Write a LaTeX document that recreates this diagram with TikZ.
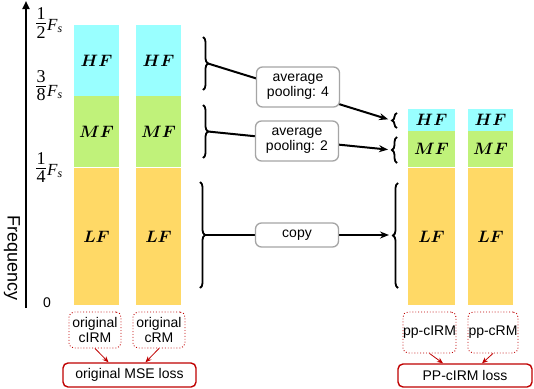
\documentclass[tikz,border=0pt]{standalone}
\usepackage[no-math]{fontspec}
\setmainfont{Liberation Sans}
\newfontfamily\fracfont{Liberation Serif}
\DeclareFontShape{OML}{cmm}{m}{it}{<->cmmi10}{}
\DeclareFontShape{OML}{cmm}{b}{it}{<->cmmib10}{}
\DeclareFontShape{OT1}{cmr}{m}{n}{<->cmr10}{}
\DeclareFontShape{OT1}{cmr}{bx}{n}{<->cmbx10}{}
\DeclareFontShape{OMS}{cmsy}{m}{n}{<->cmsy10}{}
\DeclareFontShape{OMS}{cmsy}{b}{n}{<->cmbsy10}{}
\usetikzlibrary{arrows.meta,decorations.pathreplacing}
\definecolor{hfc}{RGB}{153,255,255}
\definecolor{mfc}{RGB}{192,242,122}
\definecolor{lfc}{RGB}{255,217,102}
\definecolor{dred}{RGB}{192,0,0}
\definecolor{gbord}{RGB}{165,165,165}
\tikzset{
  seg/.style={inner sep=0pt, outer sep=0pt, draw=none, font=\fontsize{16.5}{18}\selectfont\boldmath},
  hfseg/.style={seg, fill=hfc},
  mfseg/.style={seg, fill=mfc},
  lfseg/.style={seg, fill=lfc},
  bracestyle/.style={line width=1.8pt, decorate, decoration={brace, amplitude=5pt}},
  conn/.style={line width=2pt, -{Stealth[length=9pt,width=7pt]}, shorten >=4pt},
  gbox/.style={draw=gbord, line width=1.3pt, rounded corners=6pt, fill=white, align=center,
    inner sep=1pt, minimum width=83pt, font=\fontsize{14}{15}\selectfont},
  dbox/.style={draw=dred, dotted, line width=0.9pt, rounded corners=5pt, align=center, inner sep=0pt,
    font=\fontsize{14}{15}\selectfont},
  lbox/.style={draw=dred, line width=1.4pt, rounded corners=5pt, fill=white, inner sep=0pt,
    font=\fontsize{14}{15}\selectfont},
  rarrow/.style={draw=dred, line width=0.8pt, -{Stealth[length=6pt,width=5pt]}},
  fracdigit/.style={anchor=base, inner sep=0pt, font=\fracfont\fontsize{18}{18}\selectfont},
  fsub/.style={anchor=base west, inner sep=0pt, font=\fracfont\itshape\fontsize{17}{17}\selectfont},
  fracbar/.style={line width=0.8pt}
}
\begin{document}
\begin{tikzpicture}[x=1pt,y=-1pt]
\useasboundingbox[fill=white] (0,0) rectangle (534,388);
% axis
\draw[line width=2.6pt, -{Triangle[length=8pt,width=7pt]}] (26,308) -- (26,1);
\node[rotate=-90, font=\fontsize{18}{18}\selectfont] (freq) at (12,258) {Frequency};
% 1/2 Fs
\node[fracdigit] (n12) at (41,19.5) {1};
\node[fracdigit] (d12) at (41,38.5) {2};
\draw[fracbar] (36,23.5) -- (46,23.5);
\node[fsub] (fs12) at (47,30) {F\textsubscript{s}};
% 3/8 Fs
\node[fracdigit] (n38) at (41,82.5) {3};
\node[fracdigit] (d38) at (41,100) {8};
\draw[fracbar] (36,86) -- (46,86);
\node[fsub] (fs38) at (47,96) {F\textsubscript{s}};
% 1/4 Fs
\node[fracdigit] (n14) at (41,164.5) {1};
\node[fracdigit] (d14) at (41,182) {4};
\draw[fracbar] (36,168) -- (46,168);
\node[fsub] (fs14) at (47,175) {F\textsubscript{s}};
\node[font=\fontsize{14}{14}\selectfont, inner sep=0pt] (zero) at (47,303) {0};
% left columns
\node[hfseg, minimum width=45pt, minimum height=71pt] (hf1) at (96.5,60.5) {$HF$};
\node[mfseg, minimum width=45pt, minimum height=71pt] (mf1) at (96.5,131.5) {$MF$};
\node[lfseg, minimum width=45pt, minimum height=137pt] (lf1) at (96.5,236.5) {$LF$};
\node[hfseg, minimum width=45pt, minimum height=71pt] (hf2) at (158.5,60.5) {$HF$};
\node[mfseg, minimum width=45pt, minimum height=71pt] (mf2) at (158.5,131.5) {$MF$};
\node[lfseg, minimum width=45pt, minimum height=137pt] (lf2) at (158.5,236.5) {$LF$};
% right columns
\node[hfseg, minimum width=47pt, minimum height=22pt] (hf3) at (431.5,120) {$HF$};
\node[mfseg, minimum width=47pt, minimum height=36pt] (mf3) at (431.5,149) {$MF$};
\node[lfseg, minimum width=47pt, minimum height=137pt] (lf3) at (431.5,236.5) {$LF$};
\node[hfseg, minimum width=45pt, minimum height=22pt] (hf4) at (490.5,120) {$HF$};
\node[mfseg, minimum width=45pt, minimum height=36pt] (mf4) at (490.5,149) {$MF$};
\node[lfseg, minimum width=45pt, minimum height=137pt] (lf4) at (490.5,236.5) {$LF$};
% braces
\draw[bracestyle] (203,37) -- (203,90);
\coordinate (lhf) at (208,63.5);
\draw[bracestyle] (203,105) -- (203,158);
\coordinate (lmf) at (208,131.5);
\draw[bracestyle] (200,182) -- (200,288);
\coordinate (llf) at (205,235);
\draw[bracestyle] (397,128) -- (397,113);
\coordinate (rhf) at (392,120.5);
\draw[bracestyle] (397,163) -- (397,137);
\coordinate (rmf) at (392,150);
\draw[bracestyle] (398,288) -- (398,183);
\coordinate (rlf) at (393,235);
% connectors
\draw[conn] (lhf) -- (rhf);
\draw[conn] (lmf) -- (rmf);
\draw[conn] (llf) -- (rlf);
% operation boxes
\node[gbox, minimum height=40pt] (avg4) at (298,87) {average\\pooling: 4};
\node[gbox, minimum height=40pt] (avg2) at (297,141) {average\\pooling: 2};
\node[gbox, minimum height=24pt] (copy) at (297,235) {copy};
% bottom boxes
\node[dbox, minimum width=52pt, minimum height=36pt] (oc1) at (95,330) {original\\cIRM};
\node[dbox, minimum width=52pt, minimum height=36pt] (oc2) at (159,330) {original\\cRM};
\node[dbox, minimum width=53pt, minimum height=41pt] (pp1) at (429.5,332.5) {pp-cIRM};
\node[dbox, minimum width=50pt, minimum height=41pt] (pp2) at (493,332.5) {pp-cRM};
\node[lbox, minimum width=133pt, minimum height=24pt] (mse) at (129.5,375) {original MSE loss};
\node[lbox, minimum width=134pt, minimum height=23pt] (ppl) at (465,375.5) {PP-cIRM loss};
\draw[rarrow] (oc1.south) -- ([xshift=-21pt]mse.north);
\draw[rarrow] (oc2.south) -- ([xshift=16pt]mse.north);
\draw[rarrow] (pp1.south) -- ([xshift=-22pt]ppl.north);
\draw[rarrow] (pp2.south) -- ([xshift=17pt]ppl.north);
\end{tikzpicture}
\end{document}
